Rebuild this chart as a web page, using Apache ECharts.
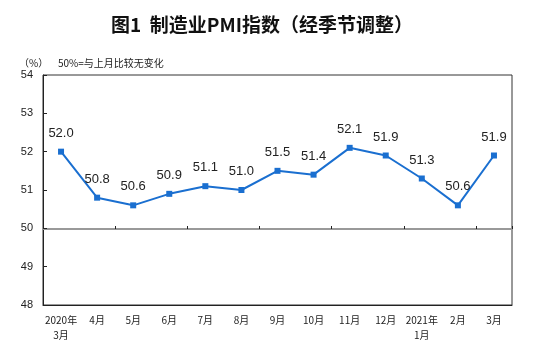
<!DOCTYPE html>
<html><head><meta charset="utf-8">
<script src="https://cdn.jsdelivr.net/npm/echarts@6/dist/echarts.min.js"></script>
<style>html,body{margin:0;padding:0;background:#fff}#c{width:554px;height:349px}</style>
</head><body><div id="c"></div>
<script>
const categories = ['2020年\n3月','4月','5月','6月','7月','8月','9月','10月','11月','12月','2021年\n1月','2月','3月'];
const pmiValues = [52.0, 50.8, 50.6, 50.9, 51.1, 51.0, 51.5, 51.4, 52.1, 51.9, 51.3, 50.6, 51.9];
const yTicks = [48, 49, 50, 51, 52, 53, 54];

const chart = echarts.init(document.getElementById('c'), null, {renderer: 'canvas'});
const cjk = '"Noto Sans CJK SC", sans-serif';
chart.setOption({
  animation: false,
  backgroundColor: '#fff',
  title: [
    {text: '图1  制造业PMI指数（经季节调整）', left: 257, top: 10, textAlign: 'center',
     textStyle: {fontFamily: cjk, fontSize: 19, fontWeight: 'bold', color: '#111'}},
    {text: '（%）', left: 14, top: 53, textStyle: {fontFamily: cjk, fontSize: 10, fontWeight: 'normal', color: '#222'}},
    {text: '50%=与上月比较无变化', left: 53, top: 53, textStyle: {fontFamily: cjk, fontSize: 10, fontWeight: 'normal', color: '#222'}}
  ],
  grid: [
    {left: 43, right: 42, top: 75, bottom: 44, show: true, borderColor: '#333', borderWidth: 1, containLabel: false},
    {left: 43, right: 42, top: 75, bottom: 120, show: false, containLabel: false}
  ],
  xAxis: [
    {type: 'category', gridIndex: 0, data: categories, boundaryGap: true,
     axisLine: {lineStyle: {color: '#222', width: 1}}, axisTick: {show: false},
     axisLabel: {fontFamily: cjk, fontSize: 10, color: '#222', margin: 8, lineHeight: 15, interval: 0}},
    {type: 'category', gridIndex: 1, data: categories, boundaryGap: true,
     axisLine: {lineStyle: {color: '#999', width: 2}},
     axisTick: {show: true, inside: true, length: 3, lineStyle: {color: '#222', width: 1}},
     axisLabel: {show: false}}
  ],
  yAxis: [
    {type: 'value', gridIndex: 0, min: yTicks[0], max: yTicks[yTicks.length - 1], interval: 1,
     splitLine: {show: false},
     axisLine: {show: true, lineStyle: {color: '#222', width: 1}},
     axisTick: {show: true, inside: true, length: 4, lineStyle: {color: '#222'}},
     axisLabel: {fontFamily: 'Liberation Sans, Arial, sans-serif', fontSize: 11, color: '#222', margin: 10}},
    {type: 'value', gridIndex: 1, min: 50, max: 54, show: false}
  ],
  series: [{
    type: 'line', xAxisIndex: 0, yAxisIndex: 0, data: pmiValues,
    symbol: 'rect', symbolSize: 6,
    lineStyle: {color: '#1a6fd0', width: 2},
    itemStyle: {color: '#1a6fd0'},
    label: {show: true, position: 'top', distance: 9,
      formatter: p => p.value.toFixed(1),
      fontFamily: 'Liberation Sans, Arial, sans-serif', fontSize: 13, color: '#222'}
  }]
});
</script></body></html>
